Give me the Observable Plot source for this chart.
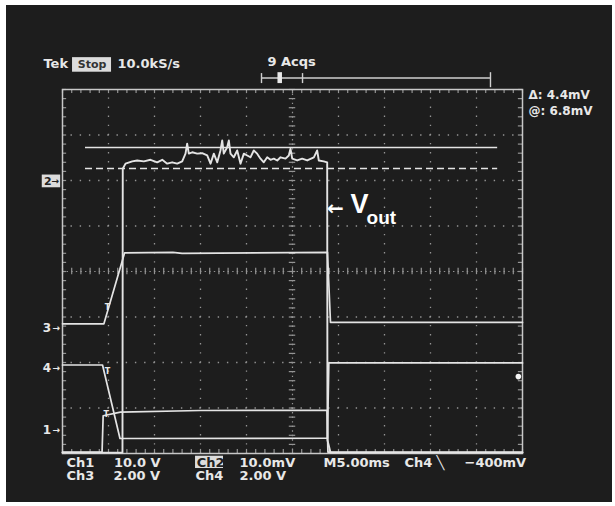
<!DOCTYPE html>
<html><head><meta charset="utf-8">
<script src="https://cdn.jsdelivr.net/npm/d3@7"></script>
<script src="https://cdn.jsdelivr.net/npm/@observablehq/plot@0.6"></script>
<style>html,body{margin:0;padding:0;background:#fff;} svg{display:block;}</style>
</head><body><div id="chart"></div>
<script>
// Horizontal: time in ms (M 5.00 ms/div, 10 div). Vertical: screen divisions (0 = bottom, 8 = top).
const ch1T = [0, 4.3, 4.42, 6.3, 15, 28.75, 28.85, 50];
const ch1D = [0.03, 0.03, 0.83, 0.91, 0.945, 0.95, 0.03, 0.03];
const ch3T = [0, 4.5, 6.75, 12, 13, 28.8, 29.13, 50];
const ch3D = [2.85, 2.85, 4.41, 4.42, 4.40, 4.42, 2.88, 2.88];
const ch4T = [0, 4.35, 6.25, 28.8, 28.95, 50];
const ch4D = [1.945, 1.945, 0.33, 0.335, 1.99, 1.99];
const voutT = [0, 6.52, 6.55, 6.85, 7.58, 8.12, 8.84, 9.57, 10.29, 10.84, 11.38, 11.92, 12.47, 13.01, 13.37, 13.55, 13.73, 14.10, 14.64, 15.18, 15.73, 16.09, 16.45, 16.82, 17.17, 17.36, 17.53, 17.90, 18.08, 18.26, 18.62, 18.99, 19.35, 19.71, 20.08, 20.43, 20.79, 21.16, 21.52, 21.88, 22.25, 22.61, 22.97, 23.34, 23.70, 24.24, 24.60, 24.78, 24.97, 25.51, 26.05, 26.60, 27.32, 27.68, 27.86, 28.40, 28.77, 28.80, 29.13, 50];
const voutD = [0.02, 0.02, 6.26, 6.37, 6.42, 6.44, 6.42, 6.455, 6.40, 6.455, 6.37, 6.40, 6.37, 6.42, 6.59, 6.81, 6.59, 6.62, 6.59, 6.60, 6.55, 6.37, 6.59, 6.40, 6.66, 6.88, 6.59, 6.73, 6.88, 6.59, 6.51, 6.66, 6.37, 6.59, 6.55, 6.51, 6.66, 6.59, 6.48, 6.40, 6.51, 6.455, 6.48, 6.44, 6.51, 6.48, 6.55, 6.70, 6.48, 6.44, 6.48, 6.44, 6.51, 6.66, 6.44, 6.42, 6.40, 0.29, 0.02, 0.02];
const cursorSolid = 6.725;   // cursor "@"
const cursorDashed = 6.264;  // cursor reference
const topLabels = ["Tek", "Stop", "10.0kS/s", "9 Acqs"];
const readouts = ["\u0394: 4.4mV", "@: 6.8mV"];
const bottomRow1 = ["Ch1", "10.0 V", "Ch2", "10.0mV", "M5.00ms", "Ch4", "\u2572", "\u2212400mV"];
const bottomRow2 = ["Ch3", "2.00 V", "Ch4", "2.00 V"];
const chMarkers = ["2", "3", "4", "1"];
const chMarkerLevels = [5.98, 2.75, 1.87, 0.505];

const zipT = (T, D) => T.map((t, i) => ({t, d: D[i]}));
const ch1 = zipT(ch1T, ch1D), ch3 = zipT(ch3T, ch3D), ch4 = zipT(ch4T, ch4D), vout = zipT(voutT, voutD);

const minorX = d3.range(0, 50.001, 1);
const minorY = d3.range(0, 8.001, 0.2);
const grat = "#949494", tr = "#e4e4e4", txt = "#e8e8e8";
const font = "DejaVu Sans";
const tOpt = {fill: txt, fontFamily: font, fontWeight: "bold", fontSize: 13, textAnchor: "start"};

const plot = Plot.plot({
  width: 615, height: 506,
  marginLeft: 62, marginRight: 93, marginTop: 89, marginBottom: 53,
  x: {domain: [0, 50], axis: null},
  y: {domain: [0, 8], axis: null},
  style: {background: "transparent", overflow: "visible"},
  marks: [
    // graticule dotted grid
    Plot.ruleX([5, 10, 15, 20, 30, 35, 40, 45], {stroke: grat, strokeWidth: 1.3, strokeDasharray: "1.4,7.7", strokeDashoffset: 0.7}),
    Plot.ruleY([1, 2, 3, 5, 6, 7], {stroke: grat, strokeWidth: 1.3, strokeDasharray: "1.4,7.8", strokeDashoffset: 0.7}),
    // center lines with ticks
    Plot.ruleX([25], {stroke: grat, strokeWidth: 1.2, strokeDasharray: "1.4,3.15"}),
    Plot.ruleY([4], {stroke: grat, strokeWidth: 1.2, strokeDasharray: "1.4,3.2"}),
    Plot.ruleY(minorY, {y: d => d, x1: 24.65, x2: 25.35, stroke: grat, strokeWidth: 1.2}),
    Plot.ruleX(minorX, {x: d => d, y1: 3.93, y2: 4.07, stroke: grat, strokeWidth: 1.2}),
    // border ticks
    Plot.ruleX(minorX, {x: d => d, y1: 0, y2: 0.09, stroke: grat, strokeWidth: 1.2}),
    Plot.ruleX(minorX, {x: d => d, y1: 7.91, y2: 8, stroke: grat, strokeWidth: 1.2}),
    Plot.ruleY(minorY, {y: d => d, x1: 0, x2: 0.45, stroke: grat, strokeWidth: 1.2}),
    Plot.ruleY(minorY, {y: d => d, x1: 49.55, x2: 50, stroke: grat, strokeWidth: 1.2}),
    Plot.frame({stroke: "#c8c8c8", strokeWidth: 1.5}),
    // cursors
    Plot.ruleY([cursorSolid], {x1: 2.5, x2: 47.3, stroke: tr, strokeWidth: 1.6}),
    Plot.ruleY([cursorDashed], {x1: 2.5, x2: 47.3, stroke: tr, strokeWidth: 1.6, strokeDasharray: "7,4"}),
    // traces
    Plot.line(ch1, {x: "t", y: "d", stroke: tr, strokeWidth: 1.7}),
    Plot.line(ch3, {x: "t", y: "d", stroke: tr, strokeWidth: 1.7}),
    Plot.line(ch4, {x: "t", y: "d", stroke: tr, strokeWidth: 1.7}),
    Plot.line(vout, {x: "t", y: "d", stroke: tr, strokeWidth: 1.9, strokeLinejoin: "round"}),
    // trigger markers on ramps
    Plot.text(["T", "T", "T"], {x: [4.9, 4.9, 4.75], y: [3.2, 1.8, 0.86], text: d => d, fill: txt, fontFamily: font, fontWeight: "bold", fontSize: 8}),
    Plot.dot([0], {x: 49.55, y: 1.69, r: 2.8, fill: "#f4f4f4"}),
    // top readouts
    Plot.text([topLabels[0]], {...tOpt, x: -2.07, y: 8.57, text: d => d}),
    Plot.rect([0], {x1: 1.09, x2: 5.33, y1: 8.38, y2: 8.70, fill: "#dcdcdc"}),
    Plot.text([topLabels[1]], {...tOpt, fill: "#333", textAnchor: "middle", x: 3.21, y: 8.54, text: d => d, fontSize: 11}),
    Plot.text([topLabels[2]], {...tOpt, x: 5.98, y: 8.57, text: d => d}),
    Plot.text([topLabels[3]], {...tOpt, x: 22.28, y: 8.6, text: d => d}),
    // record bar
    Plot.ruleY([8.253], {x1: 21.63, x2: 46.52, stroke: "#cfcfcf", strokeWidth: 1.4}),
    Plot.ruleX([21.63, 26.09], {y1: 8.13, y2: 8.35, stroke: "#cfcfcf", strokeWidth: 1.4}),
    Plot.ruleX([46.52], {y1: 8.04, y2: 8.37, stroke: "#cfcfcf", strokeWidth: 1.4}),
    Plot.rect([0], {x1: 23.42, x2: 23.91, y1: 8.13, y2: 8.37, fill: "#e8e8e8"}),
    // cursor readouts
    Plot.text([readouts[0]], {...tOpt, x: 50.65, y: 7.87, text: d => d, fontSize: 12}),
    Plot.text([readouts[1]], {...tOpt, x: 50.65, y: 7.52, text: d => d, fontSize: 12}),
    // channel markers
    Plot.rect([0], {x1: -2.2, x2: -0.2, y1: 5.84, y2: 6.12, fill: "#dcdcdc"}),
    Plot.text([chMarkers[0]], {...tOpt, fill: "#222", x: -2.0, y: chMarkerLevels[0], text: d => d, fontSize: 11}),
    Plot.text(["\u2192"], {...tOpt, fill: "#222", x: -1.2, y: chMarkerLevels[0], text: d => d, fontSize: 9}),
    Plot.text(chMarkers.slice(1), {...tOpt, x: -2.15, y: (d, i) => chMarkerLevels[i + 1], text: d => d, fontSize: 12}),
    Plot.text(chMarkers.slice(1), {...tOpt, x: -1.1, y: (d, i) => chMarkerLevels[i + 1], text: () => "\u2192", fontSize: 9}),
    // bottom readouts
    Plot.rect([0], {x1: 14.46, x2: 17.5, y1: -0.33, y2: -0.06, fill: "#dcdcdc"}),
    Plot.text(bottomRow1, {...tOpt, fill: (d, i) => i === 2 ? "#222" : txt, x: (d, i) => [0.43, 5.6, 14.6, 19.24, 28.37, 37.17, 40.65, 43.7][i], y: -0.2, text: d => d}),
    Plot.text(bottomRow2, {...tOpt, x: (d, i) => [0.43, 5.54, 14.46, 19.24][i], y: -0.5, text: d => d}),
    // Vout annotation
    Plot.text(["\u2190"], {x: 28.75, y: 5.39, text: d => d, fill: "#fff", fontFamily: font, fontWeight: "bold", fontSize: 20, textAnchor: "start"}),
    Plot.text(["V"], {x: 31.3, y: 5.47, text: d => d, fill: "#fff", fontFamily: "'Liberation Sans Narrow', 'Liberation Sans', Arial", fontWeight: "bold", fontSize: 27, textAnchor: "start"}),
    Plot.text(["out"], {x: 33.05, y: 5.17, text: d => d, fill: "#fff", fontFamily: "'Liberation Sans Narrow', 'Liberation Sans', Arial", fontWeight: "bold", fontSize: 19, textAnchor: "start"})
  ]
});
const svg = d3.select(plot);
svg.style("background", "#fff");
svg.insert("rect", ":first-child").attr("x", 6).attr("y", 5).attr("width", 606).attr("height", 497).attr("fill", "#1d1d1d");
document.getElementById("chart").appendChild(plot);
</script></body></html>
